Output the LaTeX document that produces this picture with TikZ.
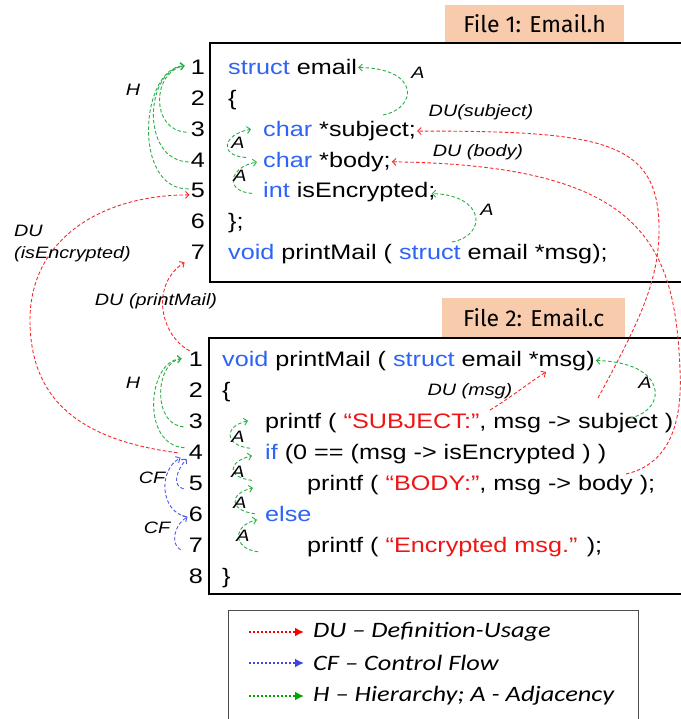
\documentclass[tikz,border=0pt]{standalone}
\usepackage{fontspec}
\setmainfont[FakeStretch=1.2]{Liberation Sans}
\newfontfamily\legendfont[FakeStretch=1.2]{Carlito}
\newfontfamily\titlefont{Fira Sans}
\usetikzlibrary{arrows.meta,calc}

\definecolor{kwblue}{RGB}{45,100,245}
\definecolor{strred}{RGB}{240,20,20}
\definecolor{edgegreen}{RGB}{40,175,70}
\definecolor{edgered}{RGB}{250,40,40}
\definecolor{edgeblue}{RGB}{80,90,235}
\definecolor{leggreen}{RGB}{0,165,0}
\definecolor{legblue}{RGB}{60,70,230}
\definecolor{peach}{RGB}{248,203,173}

\newcommand\kwd[1]{\textcolor{kwblue}{#1}}
\newcommand\strg[1]{\textcolor{strred}{#1}}

\begin{document}
\begin{tikzpicture}[x=1pt,y=1pt,
  code/.style={anchor=base west, inner sep=1pt, font=\fontsize{21}{25}\selectfont},
  lnum/.style={anchor=base east, inner sep=0pt, font=\fontsize{21}{25}\selectfont},
  lbl/.style={inner sep=0pt, font=\fontsize{16.5}{19}\selectfont\itshape},
  frame/.style={line width=2.2pt, line join=miter},
  titlebox/.style={fill=peach, inner sep=0pt, anchor=north west,
    font=\titlefont\fontsize{23}{26}\selectfont},
  edge/.style={line width=0.9pt, dash pattern=on 3.5pt off 2.2pt,
    -{Straight Barb[length=3.5pt,width=7pt]}},
  adj/.style={edge, edgegreen},
  hier/.style={edge, edgegreen},
  du/.style={edge, edgered},
  cf/.style={edge, edgeblue},
  legarrow/.style={line width=2.6pt, dash pattern=on 2.2pt off 1.8pt,
    -{Latex[length=9pt,width=9pt]}},
  legtext/.style={anchor=west, inner sep=0pt,
    font=\legendfont\itshape\fontsize{22}{26}\selectfont}
]
\useasboundingbox (0,0) rectangle (680,-719);
\fill[white] (0,0) rectangle (680,-719);

% ---------- File 1: header ----------
\node[titlebox, minimum width=179, minimum height=37] (t1) at (445,-5) {File 1: Email.h};
\draw[frame] (690,-43) -| (210,-282) -- (690,-282);

\foreach \i in {1,...,7}
  \node[lnum] (a\i) at (205,{-75-30.75*(\i-1)}) {\i};

\node[code] (ac1) at (227,-75)     {\kwd{struct} email};
\node[code] (ac2) at (227,-105.75) {\{};
\node[code] (ac3) at (262,-136.5)  {\kwd{char} *subject;};
\node[code] (ac4) at (262,-167.25) {\kwd{char} *body;};
\node[code] (ac5) at (262,-198)    {\kwd{int} isEncrypted;};
\node[code] (ac6) at (227,-228.75) {\};};
\node[code] (ac7) at (227,-259.5)  {\kwd{void} printMail ( \kwd{struct} email *msg);};

% ---------- File 2: source ----------
\node[titlebox, minimum width=183, minimum height=39] (t2) at (442,-298) {File 2: Email.c};
\draw[frame] (690,-338) -| (209,-594) -- (690,-594);

\foreach \i in {1,...,8}
  \node[lnum] (b\i) at (203,{-366-31*(\i-1)}) {\i};

\node[code] (bc1) at (221,-366) {\kwd{void} printMail ( \kwd{struct} email *msg)};
\node[code] (bc2) at (221,-397) {\{};
\node[code] (bc3) at (264,-428) {printf ( \strg{“SUBJECT:”}, msg -> subject )};
\node[code] (bc4) at (264,-459) {\kwd{if} (0 == (msg -> isEncrypted ) )};
\node[code] (bc5) at (306,-490) {printf ( \strg{“BODY:”}, msg -> body );};
\node[code] (bc6) at (264,-521) {\kwd{else}};
\node[code] (bc7) at (306,-552) {printf ( \strg{“Encrypted msg.”} );};
\node[code] (bc8) at (221,-583) {\}};

% ---------- free ends of connectors ----------
\coordinate (emailA)  at (383,-115);
\coordinate (structA) at (452,-242);
\coordinate (useSubj) at (598,-398);
\coordinate (useBody) at (626,-474);
\coordinate (useMsg)  at (490,-410);
\coordinate (defMsg)  at (546,-372);
\coordinate (subjA)   at (630,-418);

% ---------- File 1 edges ----------
% hierarchy
\draw[hier] ($(a3.west)+(-4,-3)$) .. controls (150,-130) and (152,-72) .. ($(a1.west)+(-6,2)$);
\draw[hier] ($(a4.west)+(-2,-2)$) .. controls (140,-160) and (145,-70) .. ($(a1.west)+(-6,2)$);
\draw[hier] ($(a5.west)+(-2,2)$)  .. controls (132,-190) and (140,-68) .. ($(a1.west)+(-6,2)$);
\node[lbl] (h1) at (133,-90) {H};

% adjacency
\draw[adj] (emailA) .. controls (418,-108) and (420,-68) .. (ac1.east);
\node[lbl] (adj1) at (418,-73) {A};
\draw[adj] ($(a4.east)+(41,2.5)$) .. controls +(-28,2) and +(-28,-5) .. ($(a3.east)+(46,0)$);
\draw[adj] ($(a5.east)+(47,-2.5)$) .. controls +(-28,2) and +(-28,-5) .. ($(a4.east)+(52,-2)$);
\node[lbl] (adj2) at (238,-143) {A};
\node[lbl] (adj3) at (240,-176) {A};
\draw[adj] (structA) .. controls (488,-235) and (485,-195) .. ($(ac5.east)+(-5,-1)$);
\node[lbl] (adj4) at (487,-210) {A};

% definition-usage into File 1
\draw[du] (useSubj) .. controls (640,-320) and (660,-280) .. (659,-225)
  .. controls (657,-140) and (600,-131) .. (ac3.east);
\node[lbl] (dusub) at (481,-112) {DU(subject)};
\draw[du] (useBody) .. controls (665,-465) and (683,-430) .. (680,-370)
  .. controls (675,-240) and (640,-165) .. (ac4.east);
\node[lbl] (dubody) at (478,-152) {DU (body)};
\draw[du] ($(b4.west)+(-11,-1)$) .. controls (80,-440) and (30,-400) .. (30,-320)
  .. controls (30,-240) and (100,-195) .. ($(a5.west)+(-1,-4)$);
\node[lbl, align=left, anchor=west] (duenc) at (14,-244) {DU\\[3pt](isEncrypted)};
\draw[du] ($(b1.west)+(1,8)$) .. controls (160,-335) and (150,-285) .. ($(a7.west)+(-6,-10)$);
\node[lbl] (dupm) at (156,-301) {DU (printMail)};

% ---------- File 2 edges ----------
\draw[hier] ($(b3.west)+(-5,-6)$) .. controls (152,-425) and (155,-362) .. ($(b1.west)+(-7,0)$);
\draw[hier] ($(b4.west)+(-4,4)$)  .. controls (140,-445) and (148,-360) .. ($(b1.west)+(-7,0)$);
\node[lbl] (h2) at (133,-383) {H};

% control flow
\draw[cf] ($(b5.west)+(-5,-6)$) .. controls +(-12,3) and +(-10,-12) .. ($(b4.west)+(-2,-7)$);
\draw[cf] ($(b6.west)+(-2,-3)$) .. controls (160,-512) and (158,-470) .. ($(b4.west)+(-8,-6)$);
\draw[cf] ($(b7.west)+(-8,-5)$) .. controls +(-10,5) and +(-14,-8) .. ($(b6.west)+(-1,-3)$);
\node[lbl] (cf1) at (152,-478) {CF};
\node[lbl] (cf2) at (157,-528) {CF};

% adjacency chain
\draw[adj] ($(b4.east)+(47,3.5)$) .. controls +(-25,3) and +(-25,-6) .. ($(b3.east)+(45,0)$);
\draw[adj] ($(b5.east)+(49,2.5)$) .. controls +(-25,3) and +(-25,-6) .. ($(b4.east)+(49,-4)$);
\draw[adj] ($(b6.east)+(52,0)$)   .. controls +(-25,3) and +(-25,-6) .. ($(b5.east)+(50,-5)$);
\draw[adj] ($(b7.east)+(55,-7)$)  .. controls +(-25,3) and +(-25,-6) .. ($(b6.east)+(54,-6)$);
\node[lbl] (adj5) at (238,-437) {A};
\node[lbl] (adj6) at (238,-472) {A};
\node[lbl] (adj7) at (240,-503) {A};
\node[lbl] (adj8) at (243,-536) {A};

\draw[adj] (subjA) .. controls (668,-410) and (668,-362) .. (bc1.east);
\node[lbl] (adj9) at (645,-383) {A};

\draw[du] (useMsg) .. controls (510,-398) and (530,-382) .. (defMsg);
\node[lbl] (dumsg) at (470,-391) {DU (msg)};

% ---------- legend ----------
\draw[gray!60!black, line width=1pt] (228,-730) |- (638,-610) -- (638,-730);
\node[legtext] (l1) at (313,-632) {DU – Definition-Usage};
\node[legtext] (l2) at (313,-663) {CF – Control Flow};
\node[legtext] (l3) at (313,-696) {H – Hierarchy; A - Adjacency};
\coordinate (l1s) at (249,-632);
\coordinate (l2s) at (249,-663);
\coordinate (l3s) at (249,-696);
\draw[legarrow, red]      (l1s) -- ($(l1.west)+(-9,0)$);
\draw[legarrow, legblue]  (l2s) -- ($(l2.west)+(-9,0)$);
\draw[legarrow, leggreen] (l3s) -- ($(l3.west)+(-9,0)$);
\end{tikzpicture}
\end{document}
